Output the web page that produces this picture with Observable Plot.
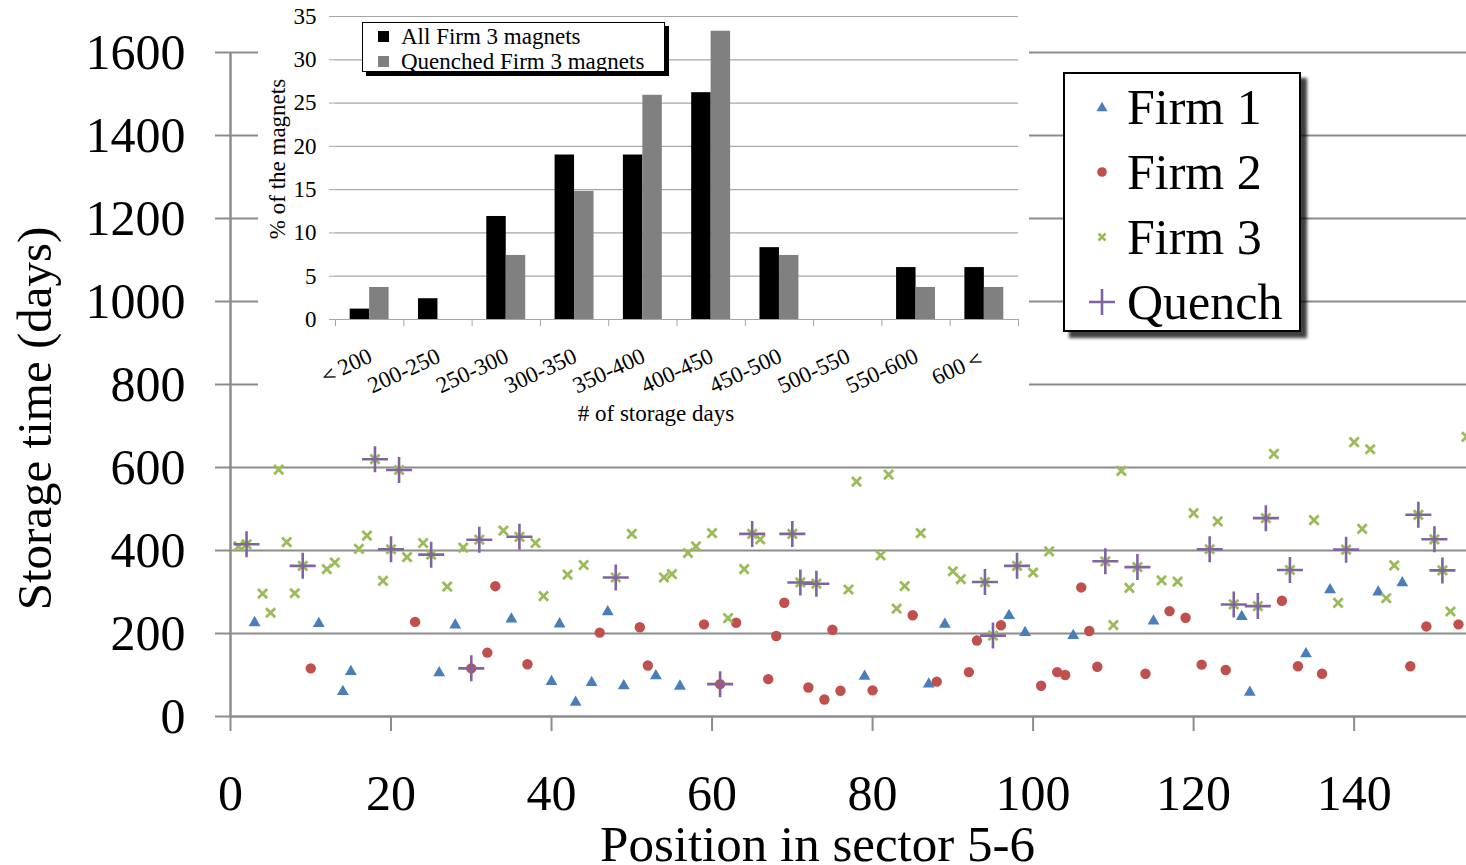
<!DOCTYPE html>
<html><head><meta charset="utf-8">
<script src="https://cdn.jsdelivr.net/npm/d3@7"></script>
<script src="https://cdn.jsdelivr.net/npm/@observablehq/plot@0.6"></script>
<style>
html,body{margin:0;padding:0;background:#fff;}
#wrap{position:relative;width:1466px;height:865px;overflow:hidden;font-family:"Liberation Serif","Times New Roman",serif;color:#000;}
#main{position:absolute;left:0;top:0;}
#inset{position:absolute;left:258px;top:0;}
#leg{position:absolute;left:1063px;top:72px;width:238px;height:260px;box-sizing:border-box;border:2px solid #000;background:#fff;box-shadow:6px 6px 3px rgba(0,0,0,.75);}
#leg .row{position:absolute;left:0;height:60px;width:234px;line-height:60px;font-size:50px;white-space:nowrap;}
#leg .row svg{position:absolute;left:22px;top:15px;}
#leg .row span{position:absolute;left:62px;top:0;}
#ileg{position:absolute;left:362px;top:22px;width:303px;height:50px;box-sizing:border-box;border:1px solid #000;background:#fff;box-shadow:4px 4px 0 #000;}
#ileg .row{position:absolute;left:0;height:24px;line-height:24px;font-size:23px;white-space:nowrap;}
#ileg .sq{position:absolute;left:15px;top:6px;width:11px;height:11px;}
#ileg span{position:absolute;left:38px;top:0;}
</style></head>
<body>
<div id="wrap">
  <div id="main"></div>
  <div id="inset"></div>
  <div id="ileg"></div>
  <div id="leg"></div>
</div>
<script>
// ---------- Main scatter data ----------
const firm1Pos  = [3,11,14,15,26,28,35,40,41,43,45,47,49,53,56,79,87,89,97,99,105,115,126,127,134,137,143,146];
const firm1Days = [226,224,60,108,105,220,235,84,223,34,82,252,74,98,73,97,78,222,243,202,195,230,241,58,151,305,300,322];

const firm2Pos  = [10,23,30,32,33,37,46,51,52,59,61,63,67,68,69,72,74,75,76,80,85,88,92,93,96,101,103,104,106,107,108,114,117,119,121,124,131,133,136,147,149,153];
const firm2Days = [116,228,116,154,314,126,202,215,123,222,78,226,90,194,274,70,41,209,62,63,244,84,107,183,220,74,107,100,311,206,120,103,254,238,125,112,279,121,103,121,217,222];

const firm3Pos  = [1,2,4,5,6,7,8,9,12,13,16,17,18,19,20,21,22,24,25,27,29,31,34,36,38,39,42,44,48,50,54,55,57,58,60,62,64,65,66,70,71,73,77,78,81,82,83,84,86,90,91,94,95,98,100,102,109,110,111,112,113,116,118,120,122,123,125,128,129,130,132,135,138,139,140,141,142,144,145,148,150,151,152,154];
const firm3Days = [410,415,296,250,595,420,297,363,355,371,404,436,620,327,403,594,384,418,390,313,407,426,448,433,418,290,342,365,335,440,335,343,394,410,442,237,355,440,427,440,323,320,306,566,388,583,260,314,442,350,331,324,195,363,347,398,374,220,592,310,360,328,325,490,403,470,270,266,478,633,353,473,274,402,661,452,644,285,364,486,427,352,253,674];

const quenchPos = [2,9,18,20,21,25,30,31,36,48,61,65,70,71,73,94,95,98,109,113,122,125,128,129,132,139,148,150,151];

const yTicks = [0,200,400,600,800,1000,1200,1400,1600];
const xTicks = [0,20,40,60,80,100,120,140];
const seriesNames = ["Firm 1","Firm 2","Firm 3","Quench"];
const xTitle = "Position in sector 5-6";
const yTitle = "Storage time (days)";

// ---------- Inset histogram data ----------
const categories = ["＜200","200-250","250-300","300-350","350-400","400-450","450-500","500-550","550-600","600＜"];
const allFirm3Pct = [1.2,2.4,11.9,19.0,19.0,26.2,8.3,0,6.0,6.0];
const quenchedFirm3Pct = [3.7,0,7.4,14.8,25.9,33.3,7.4,0,3.7,3.7];
const pctTicks = [0,5,10,15,20,25,30,35];
const insetSeries = ["All Firm 3 magnets","Quenched Firm 3 magnets"];
const insetXTitle = "# of storage days";
const insetYTitle = "% of the magnets";

// ---------- colours ----------
const C1 = "#4a7ebb", C2 = "#c0504d", C3 = "#9bbb59", CQ = "#8064a2";
const GRID = "#8c8c8c";
const FONT = "'Liberation Serif','Times New Roman',serif";

const toRows = (p, d) => p.map((pos, i) => ({pos, days: d[i]}));
const firm1 = toRows(firm1Pos, firm1Days);
const firm2 = toRows(firm2Pos, firm2Days);
const firm3 = toRows(firm3Pos, firm3Days);
const lookup = new Map([...firm1, ...firm2, ...firm3].map(d => [d.pos, d.days]));
const quench = quenchPos.map(p => ({pos: p, days: lookup.get(p)}));

const timesSym = {draw(ctx, size){const r = Math.sqrt(size/Math.PI); ctx.moveTo(-r,-r); ctx.lineTo(r,r); ctx.moveTo(-r,r); ctx.lineTo(r,-r);}};
const plusSym  = {draw(ctx, size){const r = Math.sqrt(size/Math.PI); ctx.moveTo(-r,0); ctx.lineTo(r,0); ctx.moveTo(0,-r); ctx.lineTo(0,r);}};

const main = Plot.plot({
  width: 1466, height: 865,
  marginLeft: 230, marginRight: 0, marginTop: 52, marginBottom: 149,
  style: {fontFamily: FONT, fontSize: "50px", background: "transparent", color: "#000", overflow: "hidden"},
  x: {domain: [0, 154]},
  y: {domain: [0, 1600]},
  marks: [
    Plot.ruleY(yTicks.filter(d => d > 0), {stroke: GRID, strokeWidth: 2}),
    Plot.axisY({ticks: yTicks, tickSize: 15, tickPadding: 30, stroke: GRID, strokeWidth: 2, fill: "#000", label: null, tickFormat: d => String(d)}),
    Plot.axisX({ticks: xTicks, tickSize: 15, tickPadding: 43, stroke: GRID, strokeWidth: 2, fill: "#000", label: null, tickFormat: d => String(d)}),
    Plot.ruleX([0], {stroke: GRID, strokeWidth: 2.5}),
    Plot.ruleY([0], {stroke: GRID, strokeWidth: 2.5}),
    Plot.dot(firm1, {x: "pos", y: "days", symbol: "triangle", r: 4.4, fill: C1, stroke: "none"}),
    Plot.dot(firm2, {x: "pos", y: "days", symbol: "circle", r: 5.2, fill: C2, stroke: "none"}),
    Plot.dot(firm3, {x: "pos", y: "days", symbol: timesSym, r: 4.6, fill: "none", stroke: C3, strokeWidth: 2.8}),
    Plot.dot(quench, {x: "pos", y: "days", symbol: plusSym, r: 13, fill: "none", stroke: CQ, strokeWidth: 2.6}),
    Plot.text([xTitle], {text: d => d, frameAnchor: "bottom", lineAnchor: "middle", textAnchor: "middle", dx: -31, dy: 128, fontSize: 51}),
    Plot.text([yTitle], {text: d => d, frameAnchor: "left", lineAnchor: "middle", textAnchor: "middle", dx: -195, dy: 34, rotate: -90, fontSize: 49})
  ]
});
document.getElementById("main").appendChild(main);

const inset = Plot.plot({
  width: 771, height: 440,
  marginLeft: 77, marginRight: 11, marginTop: 16, marginBottom: 121,
  style: {fontFamily: FONT, fontSize: "23px", background: "#fff", color: "#000"},
  x: {domain: [0, categories.length]},
  y: {domain: [0, 35]},
  marks: [
    Plot.ruleY(pctTicks, {stroke: "#a6a6a6", strokeWidth: 1.2}),
    Plot.axisY({ticks: pctTicks, tickSize: 6, tickPadding: 13, stroke: "#a6a6a6", fill: "#000", label: null}),
    Plot.axisX({ticks: d3.range(categories.length + 1), tickSize: 7, stroke: "#a6a6a6", tickFormat: () => "", label: null}),
    Plot.rect(allFirm3Pct, {x1: (d, i) => i + 0.215, x2: (d, i) => i + 0.5, y1: 0, y2: d => d, fill: "#000"}),
    Plot.rect(quenchedFirm3Pct, {x1: (d, i) => i + 0.5, x2: (d, i) => i + 0.785, y1: 0, y2: d => d, fill: "#808080"}),
    Plot.text(categories, {x: (d, i) => i + 0.5, text: d => d, frameAnchor: "bottom", rotate: -25, textAnchor: "end", lineAnchor: "top", dx: -3, dy: 27}),
    Plot.text([insetXTitle], {text: d => d, frameAnchor: "bottom", lineAnchor: "middle", textAnchor: "middle", dx: -21, dy: 94}),
    Plot.text([insetYTitle], {text: d => d, frameAnchor: "left", lineAnchor: "middle", textAnchor: "middle", rotate: -90, dx: -58, dy: -9})
  ]
});
document.getElementById("inset").appendChild(inset);

// inset legend
const ileg = document.getElementById("ileg");
[["#000", insetSeries[0]], ["#808080", insetSeries[1]]].forEach(([c, t], i) => {
  const row = document.createElement("div");
  row.className = "row";
  row.style.top = (2 + i * 25) + "px";
  row.innerHTML = `<div class="sq" style="background:${c}"></div><span>${t}</span>`;
  ileg.appendChild(row);
});

// main legend
const leg = document.getElementById("leg");
const icons = [
  `<polygon points="15,9.8 20.5,19.3 9.5,19.3" fill="${C1}"/>`,
  `<circle cx="15" cy="15" r="4.8" fill="${C2}"/>`,
  `<path d="M11.5,11.5L18.5,18.5M11.5,18.5L18.5,11.5" stroke="${C3}" stroke-width="2.6"/>`,
  `<path d="M2,15H28M15,2V28" stroke="${CQ}" stroke-width="2.6"/>`
];
seriesNames.forEach((name, i) => {
  const row = document.createElement("div");
  row.className = "row";
  row.style.top = (3 + i * 65) + "px";
  row.innerHTML = `<svg width="30" height="30">${icons[i]}</svg><span>${name}</span>`;
  leg.appendChild(row);
});
</script>
</body></html>
